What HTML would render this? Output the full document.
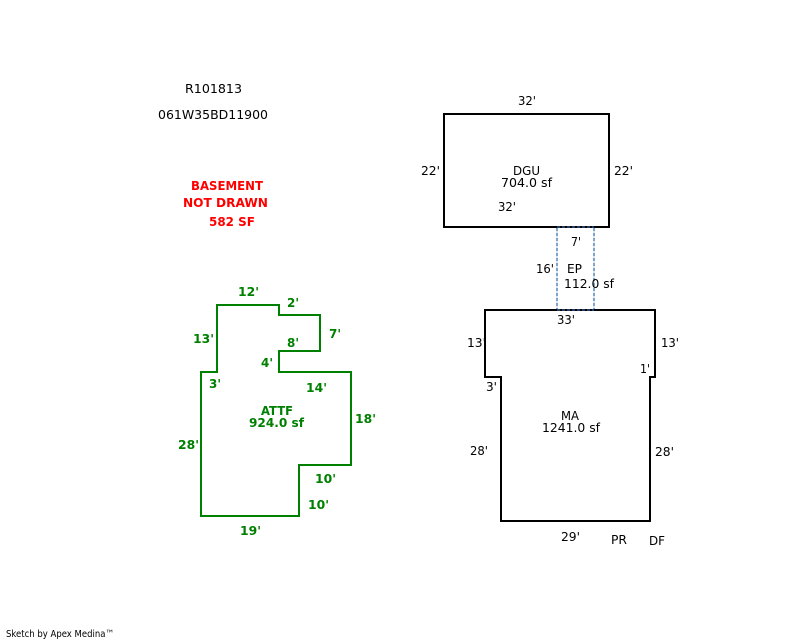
<!DOCTYPE html>
<html>
<head>
<meta charset="utf-8">
<style>
html,body{margin:0;padding:0;background:#fff;width:800px;height:640px;overflow:hidden}
svg{display:block}
text{font-family:"DejaVu Sans","Liberation Sans",sans-serif;font-size:12.5px;fill:#000}
.g text{fill:#008000;font-weight:bold;font-size:12.5px}
.r text{fill:#f00;font-weight:bold;font-size:12.5px}
</style>
</head>
<body>
<svg xmlns="http://www.w3.org/2000/svg" width="800" height="640" viewBox="0 0 800 640">
<g fill="none" stroke-linejoin="miter" shape-rendering="crispEdges">
<rect x="444" y="114" width="165" height="113" stroke="#000" stroke-width="2"/>
<polygon points="485,310 655,310 655,377 650,377 650,521 501,521 501,377 485,377" stroke="#000" stroke-width="2"/>
<polygon points="217,305 279,305 279,315 320,315 320,351 279,351 279,372 351,372 351,465 299,465 299,516 201,516 201,372 217,372" stroke="#008000" stroke-width="2"/>
<path d="M557,228V309M594,228V309" stroke="#dfe8f2" stroke-width="2"/>
<path d="M557,228V309M594,228V309" stroke="#7fa5cc" stroke-width="2" stroke-dasharray="3 2"/>
<path d="M557,227H594M557,310H594" stroke="#1f3f66" stroke-width="2" stroke-dasharray="3 2"/>
</g>

<text x="185" y="93" textLength="57" lengthAdjust="spacingAndGlyphs">R101813</text>
<text x="158" y="119" textLength="110" lengthAdjust="spacingAndGlyphs">061W35BD11900</text>

<g class="r">
<text x="191" y="190" textLength="72" lengthAdjust="spacingAndGlyphs">BASEMENT</text>
<text x="183" y="207" textLength="85" lengthAdjust="spacingAndGlyphs">NOT DRAWN</text>
<text x="209" y="226" textLength="46" lengthAdjust="spacingAndGlyphs">582 SF</text>
</g>

<g class="g">
<text x="238" y="296" textLength="21" lengthAdjust="spacingAndGlyphs">12'</text>
<text x="287" y="307" textLength="12" lengthAdjust="spacingAndGlyphs">2'</text>
<text x="193" y="343" textLength="21" lengthAdjust="spacingAndGlyphs">13'</text>
<text x="329" y="338" textLength="12" lengthAdjust="spacingAndGlyphs">7'</text>
<text x="287" y="347" textLength="12" lengthAdjust="spacingAndGlyphs">8'</text>
<text x="261" y="367" textLength="12" lengthAdjust="spacingAndGlyphs">4'</text>
<text x="209" y="388" textLength="12" lengthAdjust="spacingAndGlyphs">3'</text>
<text x="306" y="392" textLength="21" lengthAdjust="spacingAndGlyphs">14'</text>
<text x="261" y="415" textLength="32" lengthAdjust="spacingAndGlyphs">ATTF</text>
<text x="249" y="427" textLength="55" lengthAdjust="spacingAndGlyphs">924.0 sf</text>
<text x="355" y="423" textLength="21" lengthAdjust="spacingAndGlyphs">18'</text>
<text x="178" y="449" textLength="21" lengthAdjust="spacingAndGlyphs">28'</text>
<text x="315" y="483" textLength="21" lengthAdjust="spacingAndGlyphs">10'</text>
<text x="308" y="509" textLength="21" lengthAdjust="spacingAndGlyphs">10'</text>
<text x="240" y="535" textLength="21" lengthAdjust="spacingAndGlyphs">19'</text>
</g>

<text x="518" y="105" textLength="18" lengthAdjust="spacingAndGlyphs">32'</text>
<text x="421" y="175" textLength="19" lengthAdjust="spacingAndGlyphs">22'</text>
<text x="614" y="175" textLength="19" lengthAdjust="spacingAndGlyphs">22'</text>
<text x="513" y="175" textLength="27" lengthAdjust="spacingAndGlyphs">DGU</text>
<text x="501" y="187" textLength="51" lengthAdjust="spacingAndGlyphs">704.0 sf</text>
<text x="498" y="211" textLength="18" lengthAdjust="spacingAndGlyphs">32'</text>
<text x="571" y="246" textLength="10" lengthAdjust="spacingAndGlyphs">7'</text>
<text x="536" y="273" textLength="18" lengthAdjust="spacingAndGlyphs">16'</text>
<text x="567" y="273" textLength="15" lengthAdjust="spacingAndGlyphs">EP</text>
<text x="564" y="288" textLength="50" lengthAdjust="spacingAndGlyphs">112.0 sf</text>
<text x="557" y="324" textLength="18" lengthAdjust="spacingAndGlyphs">33'</text>
<text x="467" y="347" textLength="19" lengthAdjust="spacingAndGlyphs">13'</text>
<text x="661" y="347" textLength="18" lengthAdjust="spacingAndGlyphs">13'</text>
<text x="640" y="373" textLength="10" lengthAdjust="spacingAndGlyphs">1'</text>
<text x="486" y="391" textLength="11" lengthAdjust="spacingAndGlyphs">3'</text>
<text x="561" y="420" textLength="18" lengthAdjust="spacingAndGlyphs">MA</text>
<text x="542" y="432" textLength="58" lengthAdjust="spacingAndGlyphs">1241.0 sf</text>
<text x="470" y="455" textLength="18" lengthAdjust="spacingAndGlyphs">28'</text>
<text x="655" y="456" textLength="19" lengthAdjust="spacingAndGlyphs">28'</text>
<text x="561" y="541" textLength="19" lengthAdjust="spacingAndGlyphs">29'</text>
<text x="611" y="544" textLength="16" lengthAdjust="spacingAndGlyphs">PR</text>
<text x="649" y="545" textLength="16" lengthAdjust="spacingAndGlyphs">DF</text>

<text x="6" y="637" style="font-size:10px" textLength="108" lengthAdjust="spacingAndGlyphs">Sketch by Apex Medina™</text>
</svg>
</body>
</html>
